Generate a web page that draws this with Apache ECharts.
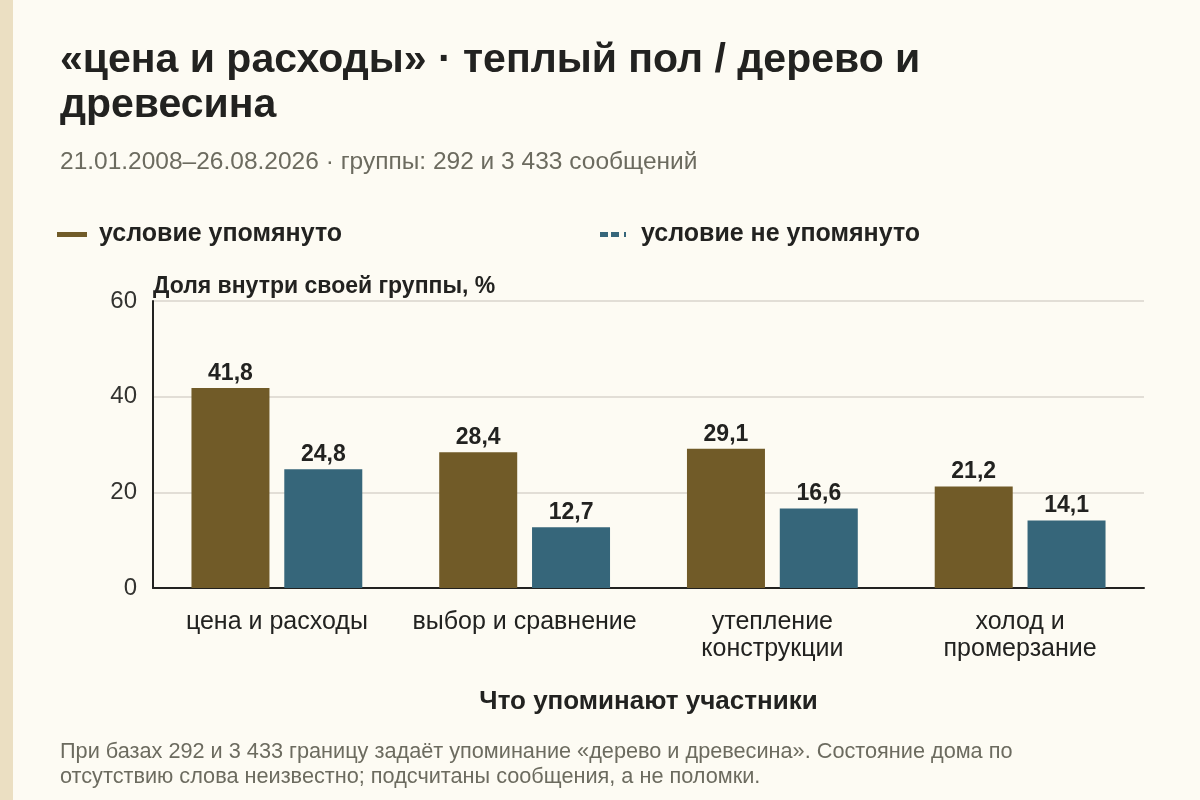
<!DOCTYPE html>
<html>
<head>
<meta charset="utf-8">
<script src="https://cdn.jsdelivr.net/npm/echarts@6/dist/echarts.min.js"></script>
<style>
  html, body { margin: 0; padding: 0; background: #fdfbf3; }
  #chart { width: 1200px; height: 800px; }
</style>
</head>
<body>
<div id="chart"></div>
<script>
// данные
const categories = ['цена и расходы', 'выбор и сравнение', 'утепление\nконструкции', 'холод и\nпромерзание'];
const seriesNames = ['условие упомянуто', 'условие не упомянуто'];
const mentioned = [41.8, 28.4, 29.1, 21.2];
const notMentioned = [24.8, 12.7, 16.6, 14.1];
const yTicks = { min: 0, max: 60, interval: 20 };

const FONT = '"Liberation Sans", Arial, sans-serif';
const OLIVE = '#715b28';
const BLUE = '#36667a';
const DARK = '#222220';
const GREY = '#6c6b5f';

const chart = echarts.init(document.getElementById('chart'));

// подпись значения с запятой
function labelFmt(p) {
  return String(p.value).replace('.', ',');
}

function barSeries(name, data, color) {
  return {
    name,
    type: 'bar',
    data,
    barWidth: 78,
    barGap: '19%',
    itemStyle: { color },
    label: {
      show: true,
      position: 'top',
      distance: 3,
      formatter: labelFmt,
      fontFamily: FONT,
      fontSize: 23,
      fontWeight: 'bold',
      color: DARK,
    },
  };
}

chart.setOption({
  backgroundColor: '#fdfbf3',
  textStyle: { fontFamily: FONT },
  title: [
    {
      text: '«цена и расходы» · теплый пол / дерево и\nдревесина',
      subtext: '21.01.2008–26.08.2026 · группы: 292 и 3 433 сообщений',
      left: 55,
      top: 33,
      itemGap: 22,
      textStyle: {
        fontFamily: FONT,
        fontSize: 41,
        fontWeight: 'bold',
        lineHeight: 45,
        color: DARK,
      },
      subtextStyle: {
        fontFamily: FONT,
        fontSize: 24.5,
        color: GREY,
      },
    },
    {
      text: 'При базах 292 и 3 433 границу задаёт упоминание «дерево и древесина». Состояние дома по\nотсутствию слова неизвестно; подсчитаны сообщения, а не поломки.',
      left: 55,
      top: 735,
      textStyle: {
        fontFamily: FONT,
        fontSize: 21.7,
        fontWeight: 'normal',
        lineHeight: 25,
        color: GREY,
      },
    },
  ],
  legend: [
    {
      data: [seriesNames[0]],
      left: 57,
      top: 222,
      padding: 0,
      itemWidth: 30,
      itemHeight: 5,
      icon: 'rect',
      textStyle: { fontFamily: FONT, fontSize: 25, fontWeight: 'bold', color: DARK, padding: [0, 0, 0, 7] },
    },
    {
      data: [seriesNames[1]],
      left: 600,
      top: 222,
      padding: 0,
      itemWidth: 30,
      itemHeight: 5,
      icon: 'path://M0,0h8v5h-8z M11,0h8v5h-8z M24,0h2v5h-2z',
      textStyle: { fontFamily: FONT, fontSize: 25, fontWeight: 'bold', color: DARK, padding: [0, 0, 0, 8] },
    },
  ],
  grid: {
    left: 153,
    right: 56,
    top: 301,
    bottom: 212,
    containLabel: false,
  },
  xAxis: {
    type: 'category',
    data: categories,
    name: 'Что упоминают участники',
    nameLocation: 'middle',
    nameGap: 101,
    nameTextStyle: { fontFamily: FONT, fontSize: 26, fontWeight: 'bold', color: DARK },
    axisLine: { lineStyle: { color: DARK, width: 2 } },
    axisTick: { alignWithLabel: true, length: 5, lineStyle: { color: DARK, width: 1.5 } },
    axisLabel: {
      interval: 0,
      fontFamily: FONT,
      fontSize: 25,
      lineHeight: 27,
      color: DARK,
      margin: 21,
    },
  },
  yAxis: {
    type: 'value',
    min: yTicks.min,
    max: yTicks.max,
    interval: yTicks.interval,
    name: 'Доля внутри своей группы, %',
    nameLocation: 'end',
    nameGap: 14,
    nameTextStyle: {
      fontFamily: FONT,
      fontSize: 23,
      fontWeight: 'bold',
      color: DARK,
      align: 'left',
      verticalAlign: 'middle',
    },
    axisLine: { show: true, lineStyle: { color: DARK, width: 2 } },
    axisTick: { show: false },
    axisLabel: { fontFamily: FONT, fontSize: 24, color: '#333330', margin: 16 },
    splitLine: { lineStyle: { color: '#d8d5cc', width: 1.5 } },
  },
  series: [
    barSeries(seriesNames[0], mentioned, OLIVE),
    barSeries(seriesNames[1], notMentioned, BLUE),
  ],
  graphic: [
    {
      type: 'rect',
      left: 0,
      top: 0,
      shape: { width: 13, height: 800 },
      style: { fill: '#ebdfc2' },
      silent: true,
    },
  ],
});
</script>
</body>
</html>
